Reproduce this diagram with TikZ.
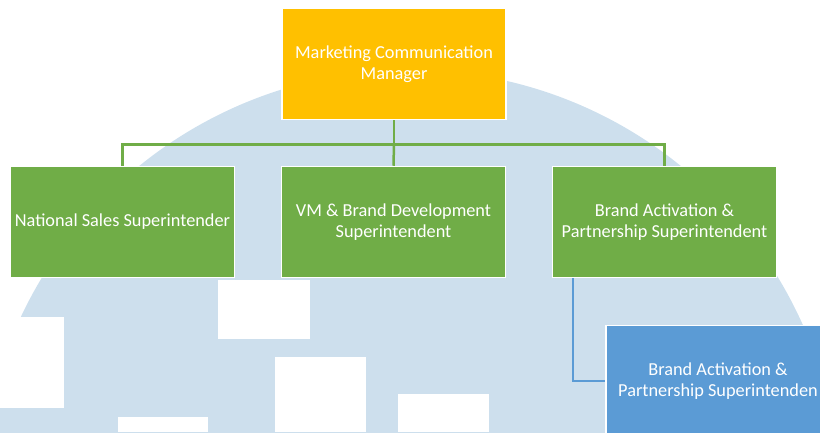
\documentclass[tikz,border=0pt]{standalone}
\usepackage{fontspec}
\setmainfont{Carlito}
\usetikzlibrary{calc}
\definecolor{mgrorange}{HTML}{FFC000}
\definecolor{teamgreen}{HTML}{70AD47}
\definecolor{subblue}{HTML}{5B9BD5}
\definecolor{wmblue}{RGB}{205,223,237}
\tikzset{
  post/.style={draw=white, line width=1.5pt, minimum width=224pt, minimum height=111pt,
    inner sep=0pt, align=center, text=white, font=\fontsize{18.3}{21}\selectfont},
  greenlink/.style={draw=teamgreen, line width=2.5pt},
  bluelink/.style={draw=subblue, line width=2.5pt}
}
\begin{document}
\begin{tikzpicture}[x=1pt,y=-1pt]
\clip (0,0) rectangle (820,432);
% watermark
\fill[wmblue] (410,500) circle (430pt);
\fill[white] (0,317) rectangle (64,408);
\fill[white] (218,280) rectangle (310,339);
\fill[white] (275,357) rectangle (366,432);
\fill[white] (398,394) rectangle (489,432);
\fill[white] (118,417) rectangle (208,432);
% posts
\node[post, fill=mgrorange] (mcm) at (394,64) {Marketing Communication\\Manager};
\node[post, fill=teamgreen] (nss) at (122.5,222) {National Sales Superintender};
\node[post, fill=teamgreen] (vmbd) at (393.5,222) {VM \& Brand Development\\Superintendent};
\node[post, fill=teamgreen] (bap) at (664.5,222) {Brand Activation \&\\Partnership Superintendent};
\node[post, fill=subblue] (bapsub) at (718,381) {Brand Activation \&\\Partnership Superintenden};
% lines
\draw[greenlink] (mcm.south) -- ++(0,24) coordinate (fork);
\draw[greenlink] (fork) -| (nss.north);
\draw[greenlink] (fork) -- (vmbd.north);
\draw[greenlink] (fork) -| (bap.north);
\draw[bluelink] ($(bap.south west)+(21,0)$) |- (bapsub.west);
\end{tikzpicture}
\end{document}
